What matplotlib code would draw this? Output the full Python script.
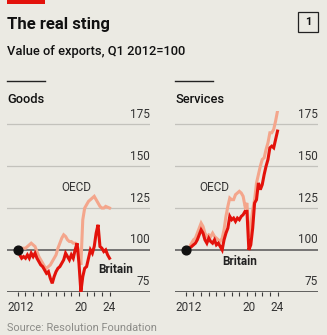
import numpy as np
import matplotlib
matplotlib.use("Agg")
import matplotlib.pyplot as plt
from matplotlib.lines import Line2D
from matplotlib.patches import Rectangle

plt.rcParams['font.family'] = ['Roboto', 'DejaVu Sans']

# quarterly, Q1 2012 .. Q1 2024
quarters = np.arange(2012, 2024.01, 0.25)

goods_britain = [100, 97, 95, 96, 95, 97, 95, 98, 96, 98, 95, 93, 91, 90, 88, 86,
                 87, 83, 80, 84, 87, 89, 90, 92, 94, 98, 96, 94, 97, 95, 100, 104,
                 92, 75, 84, 89, 90, 95, 100, 98, 102, 110, 115, 102, 101, 99, 100, 97, 95]
goods_oecd = [100, 100, 101, 101, 101, 102, 103, 104, 103, 102, 99, 96, 94, 92, 90, 89,
              90, 91, 93, 95, 97, 101, 104, 107, 109, 108, 106, 105, 105, 104, 104, 103,
              99, 91, 118, 125, 127, 129, 130, 131, 132, 130, 128, 126, 125, 125, 126, 125.5, 125]
serv_britain = [100, 99, 101, 102, 103, 104, 106, 109, 112, 110, 106, 104, 107, 105, 104, 106,
                103, 104, 102, 100, 106, 110, 113, 120, 118, 119, 117, 119, 118, 120, 121, 123,
                123, 100, 103, 113, 128, 130, 140, 136, 139, 145, 150, 154, 161, 162, 161, 166, 171]
serv_oecd = [100, 100, 102, 104, 106, 107, 110, 113, 116, 114, 110, 108, 109, 108, 110, 108,
             107, 106, 105, 107, 112, 120, 126, 131, 130, 130, 133, 134, 135, 134, 132, 126,
             128, 108, 115, 124, 130, 140, 145, 150, 154, 155, 160, 164, 170, 170, 172, 177, 183]

yticks = [75, 100, 125, 150, 175]
xlabels = ["2012", "20", "24"]
xlabel_pos = [2012.4, 2020.3, 2023.95]

W, H = 327, 335
BG = '#ebeae3'
RED = '#e3120b'
PINK = '#f4a68c'

fig = plt.figure(figsize=(W / 100, H / 100), dpi=100)
fig.patch.set_facecolor(BG)


def fx(px):
    return px / W


def fy(py):
    return 1 - py / H


# header
fig.patches.append(Rectangle((fx(7), fy(4)), fx(45) - fx(7), 4 / H, transform=fig.transFigure,
                             facecolor=RED, edgecolor='none'))
fig.text(fx(7), fy(25), "The real sting", fontsize=12, fontweight='bold', color='#111',
         va='center', ha='left')
fig.text(fx(7), fy(52), "Value of exports, Q1 2012=100", fontsize=9.3, fontweight='medium',
         color='#111', va='center', ha='left')
fig.patches.append(Rectangle((fx(298), fy(32)), 20 / W, 20 / H, transform=fig.transFigure,
                             facecolor='none', edgecolor='#222', linewidth=0.9))
fig.text(fx(308), fy(22), "1", fontsize=8, fontweight='bold', color='#111', ha='center', va='center')

fig.text(fx(7), 2 / H, "Source: Resolution Foundation", fontsize=7.9, color='#8c8c88',
         ha='left', va='bottom')

panels = [
    (7, "Goods", goods_britain, goods_oecd, (2019.6, 137.5), (2024.85, 88.5)),
    (175, "Services", serv_britain, serv_oecd, (2015.7, 137.5), (2019.1, 92.8)),
]

bottom_px = 291.7
top_px = 111
for left_px, title, brit, oecd, oecd_pos, brit_pos in panels:
    fig.add_artist(Line2D([fx(left_px), fx(left_px + 38)], [fy(81), fy(81)],
                          transform=fig.transFigure, color='#222', linewidth=1.0))
    fig.text(fx(left_px), fy(99), title, fontsize=9.3, fontweight='medium', color='#111',
             ha='left', va='center')

    ax = fig.add_axes([fx(left_px), 1 - bottom_px / H, 143 / W, (bottom_px - top_px) / H])
    ax.set_facecolor('none')
    ax.set_xlim(2010.58, 2029.3)
    ax.set_ylim(75, 183)
    for s in ax.spines.values():
        s.set_visible(False)

    for v in yticks:
        if v == 75:
            col, lw = '#3a3a3a', 1.1
        elif v == 100:
            col, lw = '#555555', 1.1
        else:
            col, lw = '#c3c2bc', 0.9
        ax.axhline(v, color=col, linewidth=lw, zorder=1)
        ax.annotate(str(v), xy=(1, v), xycoords=('axes fraction', 'data'),
                    xytext=(0, 2.5), textcoords='offset points', ha='right', va='bottom',
                    fontsize=8.5, color='#333')

    ax.set_yticks([])
    ax.set_xticks(np.arange(2012, 2025, 1))
    ax.set_xticklabels([])
    ax.tick_params(axis='x', length=3, width=0.8, color='#3a3a3a', direction='out')
    for lab, pos in zip(xlabels, xlabel_pos):
        ax.annotate(lab, xy=(pos, 0), xycoords=('data', 'axes fraction'),
                    xytext=(0, -11.5), textcoords='offset points', ha='center', va='center',
                    fontsize=8.5, color='#333')

    ax.plot(quarters, oecd, color=PINK, linewidth=2.2, zorder=3, solid_joinstyle='miter')
    ax.plot(quarters, brit, color=RED, linewidth=2.2, zorder=4, solid_joinstyle='miter')
    ax.plot([2012], [100], 'o', color='#111', markersize=6.3, zorder=5)

    ax.text(oecd_pos[0], oecd_pos[1], "OECD", fontsize=8.5, color='#333', ha='center', va='center')
    ax.text(brit_pos[0], brit_pos[1], "Britain", fontsize=8.5, fontweight='bold', color='#222',
            ha='center', va='center')

fig.savefig("out.png", dpi=100, facecolor=BG)
